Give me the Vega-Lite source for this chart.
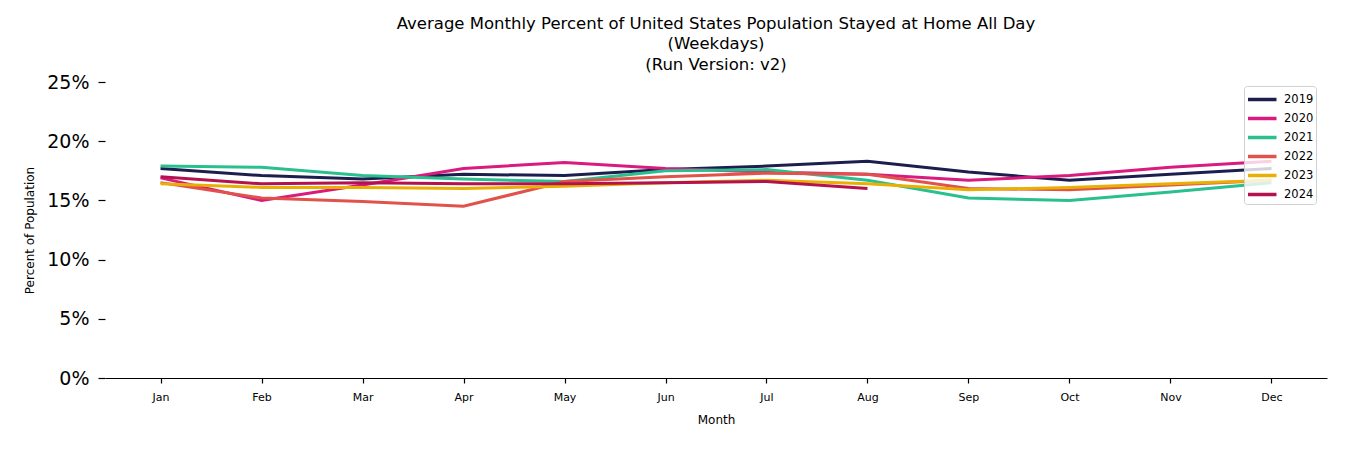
{
  "$schema": "https://vega.github.io/schema/vega-lite/v6.json",
  "autosize": {"type": "none"},
  "width": 1222,
  "height": 296,
  "padding": {"left": 105, "top": 82, "right": 23, "bottom": 72},
  "background": "white",
  "config": {
    "font": "DejaVu Sans",
    "view": {"stroke": null},
    "axis": {"grid": false}
  },
  "title": {
    "text": ["Average Monthly Percent of United States Population Stayed at Home All Day", "(Weekdays)", "(Run Version: v2)"],
    "font": "DejaVu Sans",
    "fontSize": 16.5,
    "fontWeight": "normal",
    "lineHeight": 20.5,
    "anchor": "middle",
    "offset": 0,
    "color": "black"
  },
  "data": {
    "values": [
      {"year": "2019", "month": "Jan", "pct": 17.7},
      {"year": "2019", "month": "Feb", "pct": 17.1},
      {"year": "2019", "month": "Mar", "pct": 16.8},
      {"year": "2019", "month": "Apr", "pct": 17.2},
      {"year": "2019", "month": "May", "pct": 17.1},
      {"year": "2019", "month": "Jun", "pct": 17.6},
      {"year": "2019", "month": "Jul", "pct": 17.9},
      {"year": "2019", "month": "Aug", "pct": 18.3},
      {"year": "2019", "month": "Sep", "pct": 17.4},
      {"year": "2019", "month": "Oct", "pct": 16.7},
      {"year": "2019", "month": "Nov", "pct": 17.2},
      {"year": "2019", "month": "Dec", "pct": 17.7},
      {"year": "2020", "month": "Jan", "pct": 16.9},
      {"year": "2020", "month": "Feb", "pct": 15.0},
      {"year": "2020", "month": "Mar", "pct": 16.3},
      {"year": "2020", "month": "Apr", "pct": 17.7},
      {"year": "2020", "month": "May", "pct": 18.2},
      {"year": "2020", "month": "Jun", "pct": 17.7},
      {"year": "2020", "month": "Jul", "pct": 17.4},
      {"year": "2020", "month": "Aug", "pct": 17.2},
      {"year": "2020", "month": "Sep", "pct": 16.7},
      {"year": "2020", "month": "Oct", "pct": 17.1},
      {"year": "2020", "month": "Nov", "pct": 17.8},
      {"year": "2020", "month": "Dec", "pct": 18.3},
      {"year": "2021", "month": "Jan", "pct": 17.9},
      {"year": "2021", "month": "Feb", "pct": 17.8},
      {"year": "2021", "month": "Mar", "pct": 17.1},
      {"year": "2021", "month": "Apr", "pct": 16.8},
      {"year": "2021", "month": "May", "pct": 16.6},
      {"year": "2021", "month": "Jun", "pct": 17.5},
      {"year": "2021", "month": "Jul", "pct": 17.6},
      {"year": "2021", "month": "Aug", "pct": 16.7},
      {"year": "2021", "month": "Sep", "pct": 15.2},
      {"year": "2021", "month": "Oct", "pct": 15.0},
      {"year": "2021", "month": "Nov", "pct": 15.7},
      {"year": "2021", "month": "Dec", "pct": 16.5},
      {"year": "2022", "month": "Jan", "pct": 16.5},
      {"year": "2022", "month": "Feb", "pct": 15.2},
      {"year": "2022", "month": "Mar", "pct": 14.9},
      {"year": "2022", "month": "Apr", "pct": 14.5},
      {"year": "2022", "month": "May", "pct": 16.6},
      {"year": "2022", "month": "Jun", "pct": 17.0},
      {"year": "2022", "month": "Jul", "pct": 17.3},
      {"year": "2022", "month": "Aug", "pct": 17.2},
      {"year": "2022", "month": "Sep", "pct": 16.0},
      {"year": "2022", "month": "Oct", "pct": 15.9},
      {"year": "2022", "month": "Nov", "pct": 16.3},
      {"year": "2022", "month": "Dec", "pct": 16.7},
      {"year": "2023", "month": "Jan", "pct": 16.4},
      {"year": "2023", "month": "Feb", "pct": 16.1},
      {"year": "2023", "month": "Mar", "pct": 16.1},
      {"year": "2023", "month": "Apr", "pct": 16.0},
      {"year": "2023", "month": "May", "pct": 16.2},
      {"year": "2023", "month": "Jun", "pct": 16.5},
      {"year": "2023", "month": "Jul", "pct": 16.7},
      {"year": "2023", "month": "Aug", "pct": 16.4},
      {"year": "2023", "month": "Sep", "pct": 15.9},
      {"year": "2023", "month": "Oct", "pct": 16.1},
      {"year": "2023", "month": "Nov", "pct": 16.4},
      {"year": "2023", "month": "Dec", "pct": 16.7},
      {"year": "2024", "month": "Jan", "pct": 17.0},
      {"year": "2024", "month": "Feb", "pct": 16.4},
      {"year": "2024", "month": "Mar", "pct": 16.5},
      {"year": "2024", "month": "Apr", "pct": 16.4},
      {"year": "2024", "month": "May", "pct": 16.4},
      {"year": "2024", "month": "Jun", "pct": 16.5},
      {"year": "2024", "month": "Jul", "pct": 16.6},
      {"year": "2024", "month": "Aug", "pct": 16.0}
    ]
  },
  "mark": {"type": "line", "strokeWidth": 3},
  "encoding": {
    "x": {
      "field": "month",
      "type": "ordinal",
      "sort": ["Jan", "Feb", "Mar", "Apr", "May", "Jun", "Jul", "Aug", "Sep", "Oct", "Nov", "Dec"],
      "scale": {"type": "point", "padding": 0.55},
      "axis": {
        "title": "Month",
        "titleFontSize": 12,
        "titleFontWeight": "normal",
        "titleColor": "black",
        "titleBaseline": "middle",
        "titleY": 41,
        "labelAngle": 0,
        "labelFontSize": 11,
        "labelColor": "black",
        "labelPadding": 8,
        "ticks": true,
        "tickSize": 5,
        "tickColor": "black",
        "tickWidth": 1.2,
        "domainColor": "black",
        "domainWidth": 1.2
      }
    },
    "y": {
      "field": "pct",
      "type": "quantitative",
      "scale": {"domain": [0, 25], "nice": false, "zero": true},
      "axis": {
        "title": "Percent of Population",
        "titleFontSize": 12,
        "titleFontWeight": "normal",
        "titleColor": "black",
        "titleBaseline": "middle",
        "titleX": -76,
        "values": [0, 5, 10, 15, 20, 25],
        "labelExpr": "datum.value + '%'",
        "labelFontSize": 19,
        "labelColor": "black",
        "labelPadding": 9,
        "tickSize": 7,
        "tickColor": "black",
        "tickWidth": 1.2,
        "domain": false
      }
    },
    "color": {
      "field": "year",
      "type": "nominal",
      "scale": {
        "domain": ["2019", "2020", "2021", "2022", "2023", "2024"],
        "range": ["#1c1f4e", "#d91a7f", "#2abf8f", "#e0524a", "#e8b005", "#b3124f"]
      },
      "legend": {
        "title": null,
        "orient": "none",
        "legendX": 1139,
        "legendY": 4,
        "symbolType": "M-1,0H2",
        "symbolStrokeWidth": 3.5,
        "symbolSize": 361,
        "labelFontSize": 11.5,
        "labelColor": "black",
        "labelOffset": 15,
        "rowPadding": 0,
        "padding": 2,
        "fillColor": "rgba(255,255,255,0.8)",
        "strokeColor": "#d0d0d0",
        "cornerRadius": 3
      }
    }
  }
}
